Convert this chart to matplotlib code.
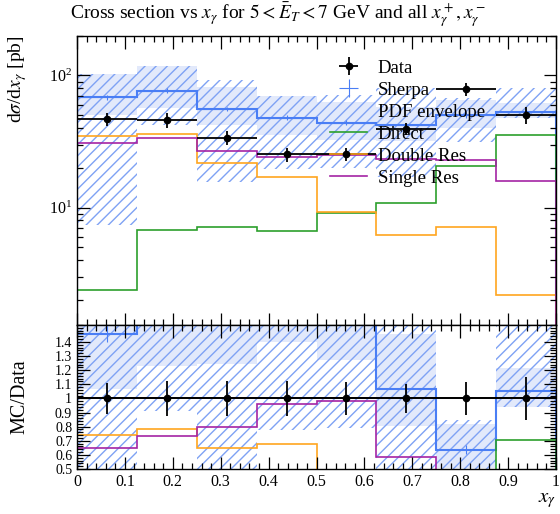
import numpy as np
import matplotlib
matplotlib.use("Agg")
import matplotlib.pyplot as plt
from matplotlib.ticker import MultipleLocator, LogLocator, FormatStrFormatter, NullFormatter

plt.rcParams['font.family'] = ['Liberation Serif', 'DejaVu Serif']
plt.rcParams['mathtext.fontset'] = 'stix'
plt.rcParams['hatch.linewidth'] = 1.0

# bins in x_gamma
bin_edges = [0.0, 0.125, 0.25, 0.375, 0.5, 0.625, 0.75, 0.875, 1.0]

# measured cross section [pb] and relative errors
data_val = [47.0, 46.0, 33.8, 25.3, 25.4, 39.5, 79.0, 50.5]
data_relerr = [0.112, 0.125, 0.125, 0.122, 0.115, 0.105, 0.118, 0.15]

# MC predictions
sherpa = [68.5, 76.7, 55.7, 47.9, 43.9, 42.2, 50.2, 53.2]
sherpa_relerr = [0.04, 0.04, 0.04, 0.04, 0.04, 0.04, 0.05, 0.04]
direct = [2.37, 6.76, 7.08, 6.6, 9.04, 10.9, 20.6, 35.5]
double_res = [34.8, 36.1, 21.9, 17.1, 9.2, 6.22, 7.08, 2.17]
single_res = [30.6, 33.8, 26.9, 24.3, 25.0, 23.2, 22.9, 15.9]

# PDF envelope (hatched) and light uncertainty band
pdf_lo = [7.4, 42.0, 15.7, 19.6, 20.0, 17.0, 31.5, 47.3]
pdf_hi = [102.0, 118.0, 92.5, 70.0, 71.0, 80.0, 67.0, 80.0]
band_lo = [50.0, 56.4, 42.0, 35.4, 32.3, 31.7, 40.0, 47.3]
band_hi = [102.0, 118.0, 82.3, 70.0, 63.3, 57.5, 64.8, 61.4]

blue = '#4a7ef5'
hatch_blue = '#7fa2f4'
fill_blue = '#e2e9fb'
green = '#2ca02c'
orange = '#ffa51f'
purple = '#a424a4'

edges = np.array(bin_edges)
centers = 0.5 * (edges[1:] + edges[:-1])
halfw = 0.5 * (edges[1:] - edges[:-1])
data_val = np.array(data_val)
data_err = data_val * np.array(data_relerr)
sherpa = np.array(sherpa)

fig = plt.figure(figsize=(5.6, 5.14), dpi=100)
ax = fig.add_axes([77/560, 1-325/514, 479/560, 289.3/514])
rax = fig.add_axes([77/560, 1-469/514, 479/560, 144/514], sharex=ax)

def style(a):
    a.tick_params(which='both', direction='in', top=True, right=True, width=0.9)
    a.tick_params(which='major', length=9, labelsize=11.5)
    a.tick_params(which='minor', length=4.5)
    for s in a.spines.values():
        s.set_linewidth(1.0)

# main panel
ax.stairs(band_hi, edges, baseline=band_lo, fill=True, color=fill_blue, lw=0)
ax.stairs(pdf_hi, edges, baseline=pdf_lo, fill=True, facecolor='none',
          edgecolor=hatch_blue, hatch='///', lw=0)
ax.stairs(sherpa, edges, color=blue, lw=1.5)
sh = ax.errorbar(centers, sherpa, yerr=sherpa*np.array(sherpa_relerr), xerr=halfw,
                 fmt='none', ecolor=blue, elinewidth=0.8, capsize=0, label='Sherpa')
ax.stairs(direct, edges, color=green, lw=1.2)
ax.stairs(double_res, edges, color=orange, lw=1.2)
ax.stairs(single_res, edges, color=purple, lw=1.2)
dt = ax.errorbar(centers, data_val, yerr=data_err, xerr=halfw, fmt='o', color='black',
                 ms=4.5, elinewidth=1.3, capsize=0, label='Data', zorder=5)

ax.set_yscale('log')
ax.set_xlim(0, 1)
ax.set_ylim(1.29, 200)
ax.yaxis.set_major_locator(LogLocator(base=10))
ax.yaxis.set_minor_locator(LogLocator(base=10, subs=np.arange(2, 10)))
ax.yaxis.set_minor_formatter(NullFormatter())
ax.xaxis.set_major_locator(MultipleLocator(0.1))
ax.xaxis.set_minor_locator(MultipleLocator(0.02))
style(ax)
ax.tick_params(labelbottom=False)
ax.set_ylabel(r'd$\sigma$/d$x_\gamma$ [pb]', loc='top', fontsize=14)

env_handle = plt.Line2D([], [], color='none')
l_dir, = ax.plot([], [], color=green, lw=1.2)
l_dbl, = ax.plot([], [], color=orange, lw=1.2)
l_sgl, = ax.plot([], [], color=purple, lw=1.2)
ax.legend([dt, sh, env_handle, l_dir, l_dbl, l_sgl],
          ['Data', 'Sherpa', 'PDF envelope', 'Direct', 'Double Res', 'Single Res'],
          loc='upper left', bbox_to_anchor=(0.528, 0.918), frameon=False, fontsize=13.5,
          handlelength=2.0, handletextpad=0.55, labelspacing=0.26, borderpad=0, borderaxespad=0)

fig.text(70/560, 1-20/514, r'Cross section vs $x_\gamma$ for $5 < \bar{E}_T < 7$ GeV and all $x_\gamma^+, x_\gamma^-$',
         fontsize=14, ha='left', va='baseline')

# ratio panel
rax.stairs(np.array(band_hi)/data_val, edges, baseline=np.array(band_lo)/data_val,
           fill=True, color=fill_blue, lw=0)
rax.stairs(np.array(pdf_hi)/data_val, edges, baseline=np.array(pdf_lo)/data_val, fill=True,
           facecolor='none', edgecolor=hatch_blue, hatch='///', lw=0)
rax.stairs(sherpa/data_val, edges, color=blue, lw=1.5)
rax.errorbar(centers, sherpa/data_val, yerr=sherpa/data_val*np.array(sherpa_relerr),
             fmt='none', ecolor=blue, elinewidth=0.8, capsize=0)
rax.stairs(np.array(direct)/data_val, edges, color=green, lw=1.2)
rax.stairs(np.array(double_res)/data_val, edges, color=orange, lw=1.2)
rax.stairs(np.array(single_res)/data_val, edges, color=purple, lw=1.2)
rax.axhline(1.0, color='black', lw=1.3)
rax.errorbar(centers, np.ones_like(centers), yerr=np.array(data_relerr), xerr=halfw,
             fmt='o', color='black', ms=4.5, elinewidth=1.3, capsize=0, zorder=5)

rax.yaxis.set_major_locator(MultipleLocator(0.1))
rax.yaxis.set_minor_locator(MultipleLocator(0.02))
rax.yaxis.set_major_formatter(FormatStrFormatter('%g'))
rax.xaxis.set_major_formatter(FormatStrFormatter('%g'))
style(rax)
rax.tick_params(axis='y', labelsize=10)
rax.set_yticks([0.5, 0.6, 0.7, 0.8, 0.9, 1.0, 1.1, 1.2, 1.3, 1.4])
rax.set_ylim(0.5, 1.52)
rax.set_ylabel('MC/Data', fontsize=14.5)
rax.set_xlabel(r'$x_\gamma$', loc='right', fontsize=15, labelpad=1)

ax.yaxis.set_label_coords(-0.1, 1.0)
rax.yaxis.set_label_coords(-0.1, 0.5)

fig.savefig('out.png', dpi=100, facecolor='white')
